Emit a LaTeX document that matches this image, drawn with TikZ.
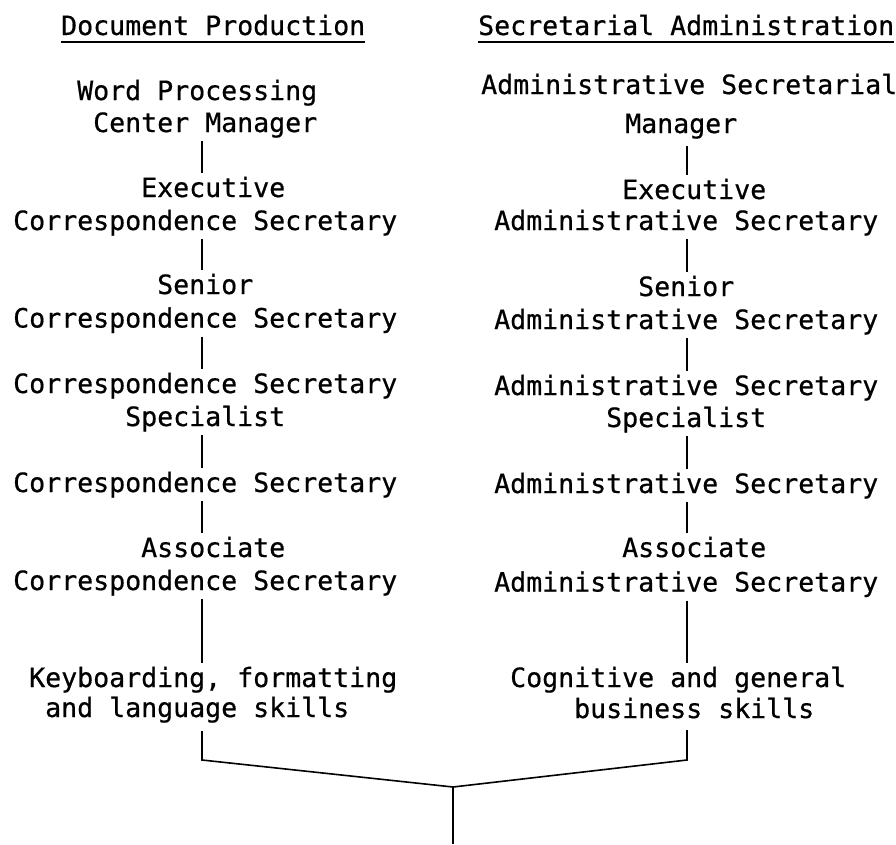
\documentclass[tikz,border=0pt]{standalone}
\usepackage{fontspec}
\newfontfamily\twfont[FakeBold=0.6]{DejaVu Sans Mono}
\newcommand\tyline[2][0]{\hbox{\vrule height24pt depth9pt width0pt\hskip#1\fontcharwd\font`x\relax #2}}
\newcommand\tyblock[2][32.5pt]{\vtop{\baselineskip=#1\relax\lineskiplimit=-\maxdimen #2}}
\tikzset{
  txt/.style={inner sep=0pt, anchor=base west, font=\twfont\fontsize{26.58pt}{32pt}\selectfont},
  conn/.style={line width=1.6pt, black},
  uline/.style={line width=1.7pt, black}
}
\begin{document}
\begin{tikzpicture}[x=1pt,y=-1pt]
\useasboundingbox[fill=white] (0,0) rectangle (896,844);
\coordinate (xL) at (202,0);
\coordinate (xR) at (687,0);
% headers
\node[txt] (hdrL) at (61,35) {Document Production};
\node[txt] (hdrR) at (478,35) {Secretarial Administration};
\draw[uline] ([yshift=-7pt]hdrL.base west) -- ([yshift=-7pt]hdrL.base east);
\draw[uline] ([yshift=-7pt]hdrR.base west) -- ([yshift=-7pt]hdrR.base east);
% left column
\node[txt] (wp) at (13,100) {\tyblock[32pt]{\tyline[4]{Word Processing}\tyline[5]{Center Manager}}};
\node[txt] (exL) at (13,197) {\tyblock[33pt]{\tyline[8]{Executive}\tyline{Correspondence Secretary}}};
\node[txt] (snL) at (13,294) {\tyblock[33.5pt]{\tyline[9]{Senior}\tyline{Correspondence Secretary}}};
\node[txt] (cssL) at (13,393) {\tyblock[33pt]{\tyline{Correspondence Secretary}\tyline[7]{Specialist}}};
\node[txt] (csL) at (13,492) {\tyblock{\tyline{Correspondence Secretary}}};
\node[txt] (asL) at (13,557) {\tyblock[33pt]{\tyline[8]{Associate}\tyline{Correspondence Secretary}}};
\node[txt] (kb) at (13,687) {\tyblock[30pt]{\tyline[1]{Keyboarding, formatting}\tyline[2]{and language skills}}};
% right column
\node[txt] (asm) at (481,94) {\tyblock[39pt]{\tyline{Administrative Secretarial}\tyline[9]{Manager}}};
\node[txt] (exR) at (494,199) {\tyblock[31pt]{\tyline[8]{Executive}\tyline{Administrative Secretary}}};
\node[txt] (snR) at (494,296) {\tyblock[33pt]{\tyline[9]{Senior}\tyline{Administrative Secretary}}};
\node[txt] (assR) at (494,395) {\tyblock[32pt]{\tyline{Administrative Secretary}\tyline[7]{Specialist}}};
\node[txt] (asR) at (494,493) {\tyblock{\tyline{Administrative Secretary}}};
\node[txt] (aaR) at (494,557) {\tyblock[34.5pt]{\tyline[8]{Associate}\tyline{Administrative Secretary}}};
\node[txt] (cg) at (494,687) {\tyblock[31pt]{\tyline[1]{Cognitive and general}\tyline[5]{business skills}}};
% connectors left
\draw[conn] (wp.south -| xL) -- (exL.north -| xL);
\draw[conn] (exL.south -| xL) -- (snL.north -| xL);
\draw[conn] (snL.south -| xL) -- (cssL.north -| xL);
\draw[conn] (cssL.south -| xL) -- (csL.north -| xL);
\draw[conn] (csL.south -| xL) -- (asL.north -| xL);
\draw[conn] (asL.south -| xL) -- (kb.north -| xL);
% connectors right
\draw[conn, shorten <=4pt] (asm.south -| xR) -- (exR.north -| xR);
\draw[conn] (exR.south -| xR) -- (snR.north -| xR);
\draw[conn] (snR.south -| xR) -- (assR.north -| xR);
\draw[conn] (assR.south -| xR) -- (asR.north -| xR);
\draw[conn] (asR.south -| xR) -- (aaR.north -| xR);
\draw[conn] (aaR.south -| xR) -- (cg.north -| xR);
% bottom join
\coordinate (bl) at (202,760);
\coordinate (br) at (687,760);
\coordinate (j) at (453,787);
\coordinate (e) at (453,844);
\draw[conn, line join=miter, shorten <=5pt, shorten >=3pt] (kb.south -| xL) -- (bl) -- (j) -- (br) -- (cg.south -| xR);
\draw[conn] (j) -- (e);
\end{tikzpicture}
\end{document}
